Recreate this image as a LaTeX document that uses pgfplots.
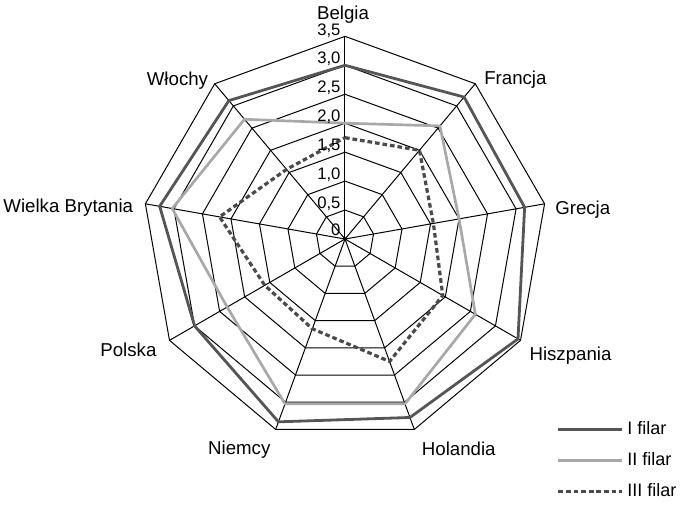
\documentclass[border=0pt]{standalone}
\usepackage{fontspec}
\setmainfont{Liberation Sans}
\usepackage{pgfplots}
\pgfplotsset{compat=1.18}
\usepgfplotslibrary{polar}
\definecolor{cI}{HTML}{555555}
\definecolor{cII}{HTML}{A8A8A8}
\definecolor{cIII}{HTML}{4A4A4A}
\begin{document}
\begin{tikzpicture}
\path[use as bounding box] (-258.75pt,-198.75pt) rectangle (251.25pt,179.25pt);
\begin{polaraxis}[
  at={(0pt,0pt)}, anchor=center,
  width=304pt, height=304pt, scale only axis,
  ymin=0, ymax=3.5,
  axis line style={draw=none},
  xtick=\empty, ytick=\empty,
  clip=false,
  legend style={at={(1.022,0.058)}, anchor=north west, draw=none, fill=none,
    inner sep=0pt, row sep=7pt, font=\fontsize{13.5}{15}\selectfont,
    nodes={inner sep=2.5pt}},
  legend cell align=left,
  legend image code/.code={\draw[#1] (0pt,0pt) -- (48pt,0pt);},
]
% grid rings
\addplot[black, line width=0.75pt, forget plot] coordinates {(90,0.5) (50,0.5) (10,0.5) (-30,0.5) (-70,0.5) (-110,0.5) (-150,0.5) (170,0.5) (130,0.5) (90,0.5)};
\addplot[black, line width=0.75pt, forget plot] coordinates {(90,1.0) (50,1.0) (10,1.0) (-30,1.0) (-70,1.0) (-110,1.0) (-150,1.0) (170,1.0) (130,1.0) (90,1.0)};
\addplot[black, line width=0.75pt, forget plot] coordinates {(90,1.5) (50,1.5) (10,1.5) (-30,1.5) (-70,1.5) (-110,1.5) (-150,1.5) (170,1.5) (130,1.5) (90,1.5)};
\addplot[black, line width=0.75pt, forget plot] coordinates {(90,2.0) (50,2.0) (10,2.0) (-30,2.0) (-70,2.0) (-110,2.0) (-150,2.0) (170,2.0) (130,2.0) (90,2.0)};
\addplot[black, line width=0.75pt, forget plot] coordinates {(90,2.5) (50,2.5) (10,2.5) (-30,2.5) (-70,2.5) (-110,2.5) (-150,2.5) (170,2.5) (130,2.5) (90,2.5)};
\addplot[black, line width=0.75pt, forget plot] coordinates {(90,3.0) (50,3.0) (10,3.0) (-30,3.0) (-70,3.0) (-110,3.0) (-150,3.0) (170,3.0) (130,3.0) (90,3.0)};
\addplot[black, line width=0.75pt, forget plot] coordinates {(90,3.5) (50,3.5) (10,3.5) (-30,3.5) (-70,3.5) (-110,3.5) (-150,3.5) (170,3.5) (130,3.5) (90,3.5)};
% spokes
\addplot[black, line width=0.75pt, forget plot] coordinates {(90,0) (90,3.5)};
\addplot[black, line width=0.75pt, forget plot] coordinates {(50,0) (50,3.5)};
\addplot[black, line width=0.75pt, forget plot] coordinates {(10,0) (10,3.5)};
\addplot[black, line width=0.75pt, forget plot] coordinates {(-30,0) (-30,3.5)};
\addplot[black, line width=0.75pt, forget plot] coordinates {(-70,0) (-70,3.5)};
\addplot[black, line width=0.75pt, forget plot] coordinates {(-110,0) (-110,3.5)};
\addplot[black, line width=0.75pt, forget plot] coordinates {(-150,0) (-150,3.5)};
\addplot[black, line width=0.75pt, forget plot] coordinates {(170,0) (170,3.5)};
\addplot[black, line width=0.75pt, forget plot] coordinates {(130,0) (130,3.5)};
\addplot[black, only marks, mark=*, mark size=1.3pt, forget plot] coordinates {(0,0)};
% data
\addplot[cI, line width=2.1pt, line join=round] coordinates {(90,3.0) (50,3.2) (10,3.15) (-30,3.45) (-70,3.28) (-110,3.36) (-150,3.0) (170,3.25) (130,3.12) (90,3.0)};
\addlegendentry{I filar}
\addplot[cII, line width=2pt, line join=round] coordinates {(90,2.0) (50,2.55) (10,2.0) (-30,2.6) (-70,3.03) (-110,3.03) (-150,2.35) (170,3.03) (130,2.7) (90,2.0)};
\addlegendentry{II filar}
\addplot[cIII, line width=2.4pt, dash pattern=on 3.5pt off 2.2pt] coordinates {(90,1.75) (50,2.0) (10,1.55) (-30,1.95) (-70,2.25) (-110,1.65) (-150,1.6) (170,2.2) (130,1.57) (90,1.75)};
\addlegendentry{III filar}
% category labels
\begin{scope}[every node/.style={font=\fontsize{14}{16}\selectfont, inner sep=0pt}]
\node[anchor=base] at ([shift={(-1.5pt,164.5pt)}]axis cs:0,0) {Belgia};
\node[anchor=base west] at ([shift={(104.25pt,116pt)}]axis cs:0,0) {Francja};
\node[anchor=base west] at ([shift={(157.5pt,18.75pt)}]axis cs:0,0) {Grecja};
\node[anchor=base west] at ([shift={(138.2pt,-90.75pt)}]axis cs:0,0) {Hiszpania};
\node[anchor=base west] at ([shift={(57.5pt,-162pt)}]axis cs:0,0) {Holandia};
\node[anchor=base east] at ([shift={(-55.75pt,-161.25pt)}]axis cs:0,0) {Niemcy};
\node[anchor=base east] at ([shift={(-141.25pt,-88.25pt)}]axis cs:0,0) {Polska};
\node[anchor=base east] at ([shift={(-158.75pt,20pt)}]axis cs:0,0) {Wielka Brytania};
\node[anchor=base east] at ([shift={(-102.5pt,115.5pt)}]axis cs:0,0) {Włochy};
\end{scope}
% radial tick labels
\begin{scope}[every node/.style={font=\fontsize{12.5}{14}\selectfont, inner sep=0pt, anchor=base east}]
\node at ([shift={(-3.2pt,2.5pt)}]axis cs:90,0) {0};
\node at ([shift={(-3.2pt,1pt)}]axis cs:90,0.5) {0,5};
\node at ([shift={(-3.2pt,1pt)}]axis cs:90,1.0) {1,0};
\node at ([shift={(-3.2pt,1pt)}]axis cs:90,1.5) {1,5};
\node at ([shift={(-3.2pt,1pt)}]axis cs:90,2.0) {2,0};
\node at ([shift={(-3.2pt,1pt)}]axis cs:90,2.5) {2,5};
\node at ([shift={(-3.2pt,1pt)}]axis cs:90,3.0) {3,0};
\node at ([shift={(-3.2pt,0.5pt)}]axis cs:90,3.5) {3,5};
\end{scope}
\end{polaraxis}
\end{tikzpicture}
\end{document}
